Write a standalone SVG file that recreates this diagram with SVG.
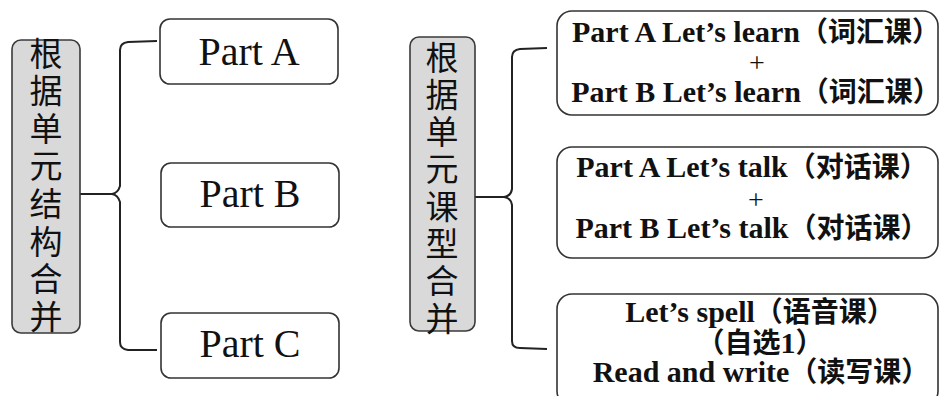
<svg xmlns="http://www.w3.org/2000/svg" width="941" height="396" viewBox="0 0 941 396">
<style>
.bg{fill:#ffffff}
.gray{fill:#d9d9d9;stroke:#3a3a3a;stroke-width:1.6}
.box{fill:#ffffff;stroke:#333333;stroke-width:1.6}
.conn{fill:none;stroke:#222222;stroke-width:2}
.vtext{font-family:"Noto Sans CJK SC","Noto Sans CJK JP",sans-serif;font-size:33px;fill:#111;writing-mode:vertical-rl;text-orientation:upright}
.part{font-family:"Liberation Serif","Times New Roman",serif;font-size:40px;fill:#111;text-anchor:middle}
.lbl{font-family:"Liberation Serif","Noto Sans CJK SC",serif;font-size:30px;font-weight:bold;fill:#111;text-anchor:middle}
.cjk{font-family:"Noto Sans CJK SC",sans-serif;font-size:28px;font-weight:bold}
.plus{font-family:"Liberation Serif",serif;font-size:28px;fill:#111;text-anchor:middle}
</style>
<rect class="bg" x="0" y="0" width="941" height="396"/>

<g id="connectors">
  <path class="conn" d="M76 194 L112 194 Q118 193 120 186 L120 50 Q120 43 128 42 L157 41"/>
  <path class="conn" d="M112 194 Q118 195 120 202 L120 342 Q120 349 128 350 L157 350"/>
  <path class="conn" d="M470 197 L504 197 Q511 196 512 189 L512 57 Q512 50 520 49 L547 48"/>
  <path class="conn" d="M504 197 Q511 198 512 205 L512 341 Q512 348 520 348 L547 349"/>
</g>

<g id="left-root">
  <rect class="gray" x="12" y="40" width="68" height="293" rx="9"/>
  <text class="vtext" x="46" y="36.5" letter-spacing="4.6">根据单元结构合并</text>
</g>

<g id="part-a">
  <rect class="box" x="160" y="19" width="178" height="65" rx="10"/>
  <text class="part" x="249" y="65">Part A</text>
</g>
<g id="part-b">
  <rect class="box" x="161" y="163" width="178" height="64" rx="10"/>
  <text class="part" x="250" y="207">Part B</text>
</g>
<g id="part-c">
  <rect class="box" x="161" y="313" width="178" height="65" rx="10"/>
  <text class="part" x="250" y="357">Part C</text>
</g>

<g id="right-root">
  <rect class="gray" x="410" y="37" width="65" height="294" rx="9"/>
  <text class="vtext" x="442" y="40.5" letter-spacing="4.3">根据单元课型合并</text>
</g>

<g id="learn">
  <rect class="box" x="557" y="11" width="381" height="104" rx="15"/>
  <text class="lbl" x="756" y="42">Part A Let’s learn<tspan class="cjk">（词汇课）</tspan></text>
  <text class="plus" x="757" y="72">+</text>
  <text class="lbl" x="756" y="102">Part B Let’s learn<tspan class="cjk">（词汇课）</tspan></text>
</g>

<g id="talk">
  <rect class="box" x="557" y="147" width="381" height="111" rx="15"/>
  <text class="lbl" x="752" y="177">Part A Let’s talk<tspan class="cjk">（对话课）</tspan></text>
  <text class="plus" x="756" y="209">+</text>
  <text class="lbl" x="752" y="238">Part B Let’s talk<tspan class="cjk">（对话课）</tspan></text>
</g>

<g id="spell-write">
  <rect class="box" x="557" y="294" width="381" height="112" rx="15"/>
  <text class="lbl"><tspan x="760" y="322">Let’s spell<tspan class="cjk">（语音课）</tspan></tspan><tspan x="760" y="353"><tspan class="cjk">（自选</tspan>1<tspan class="cjk">）</tspan></tspan><tspan x="761" y="382">Read and write<tspan class="cjk">（读写课）</tspan></tspan></text>
</g>
</svg>
